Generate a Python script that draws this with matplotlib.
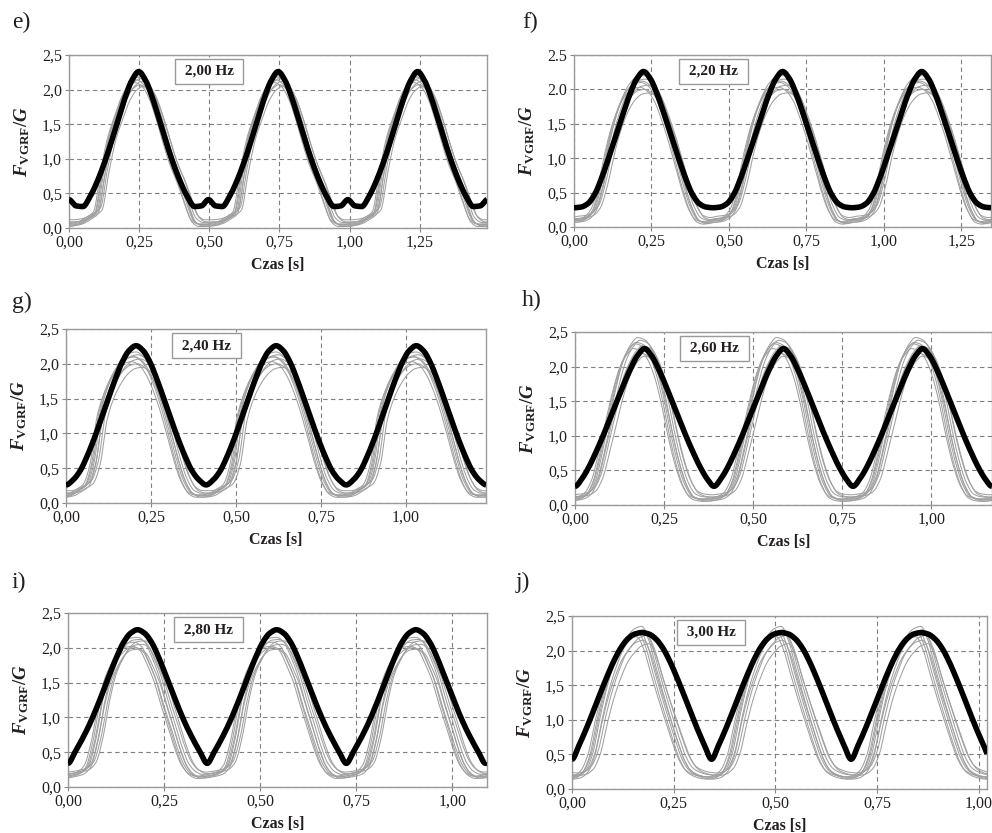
import numpy as np
import matplotlib
matplotlib.use("Agg")
import matplotlib.pyplot as plt

plt.rcParams['font.family'] = ['Liberation Serif', 'DejaVu Serif']
plt.rcParams['mathtext.fontset'] = 'custom'
plt.rcParams['mathtext.rm'] = 'Liberation Serif:bold'
plt.rcParams['mathtext.it'] = 'Liberation Serif:bold:italic'
plt.rcParams['mathtext.bf'] = 'Liberation Serif:bold'

TXT = '#231f20'

# --- data ---
panel_letters = ['e)', 'f)', 'g)', 'h)', 'i)', 'j)']
freq_labels = ['2,00 Hz', '2,20 Hz', '2,40 Hz', '2,60 Hz', '2,80 Hz', '3,00 Hz']
periods = [0.497, 0.449, 0.412, 0.390, 0.362, 0.343]   # s, one step cycle
x_max = [1.49, 1.346, 1.235, 1.17, 1.09, 1.02]

x_ticks = [[0, 0.25, 0.5, 0.75, 1.0, 1.25],
           [0, 0.25, 0.5, 0.75, 1.0, 1.25],
           [0, 0.25, 0.5, 0.75, 1.0],
           [0, 0.25, 0.5, 0.75, 1.0],
           [0, 0.25, 0.5, 0.75, 1.0],
           [0, 0.25, 0.5, 0.75, 1.0]]
x_tick_labels = [['0,00', '0,25', '0,50', '0,75', '1,00', '1,25'],
                 ['0,00', '0,25', '0,50', '0,75', '1,00', '1,25'],
                 ['0,00', '0,25', '0,50', '0,75', '1,00'],
                 ['0,00', '0,25', '0,50', '0,75', '1,00'],
                 ['0,00', '0,25', '0,50', '0,75', '1,00'],
                 ['0,00', '0,25', '0,50', '0,75', '1,00']]
y_ticks = [0, 0.5, 1.0, 1.5, 2.0, 2.5]
y_tick_labels = [['0,0', '0,5', '1,0', '1,5', '2,0', '2,5'],
                 ['0,0', '0,5', '1,0', '1,5', '2.0', '2.5'],
                 ['0,0', '0,5', '1,0', '1,5', '2,0', '2,5'],
                 ['0,0', '0,5', '1,0', '1,5', '2,0', '2,5'],
                 ['0,0', '0,5', '1,0', '1,5', '2,0', '2,5'],
                 ['0,0', '0,5', '1,0', '1,5', '2,0', '2,5']]

# samples over one cycle, at phase 0, 0.05, ..., 1.0
phase = np.linspace(0, 1, 21)

# model load (thick black line)
thick_e = [0.41, 0.32, 0.31, 0.45, 0.66, 0.92, 1.22, 1.55, 1.87, 2.13, 2.26,
           2.13, 1.87, 1.55, 1.22, 0.92, 0.66, 0.45, 0.31, 0.32, 0.41]
thick_f = [0.28, 0.29, 0.34, 0.48, 0.72, 1.01, 1.32, 1.63, 1.92, 2.15, 2.26,
           2.15, 1.92, 1.63, 1.32, 1.01, 0.72, 0.48, 0.34, 0.29, 0.28]
thick_g = [0.26, 0.33, 0.46, 0.67, 0.92, 1.20, 1.49, 1.77, 2.02, 2.19, 2.26,
           2.19, 2.02, 1.77, 1.49, 1.20, 0.92, 0.67, 0.46, 0.33, 0.26]
thick_h = [0.27, 0.38, 0.55, 0.76, 0.99, 1.24, 1.49, 1.74, 1.97, 2.16, 2.26,
           2.16, 1.97, 1.74, 1.49, 1.24, 0.99, 0.76, 0.55, 0.38, 0.27]
thick_i = [0.34, 0.50, 0.68, 0.88, 1.11, 1.36, 1.62, 1.87, 2.08, 2.21, 2.26,
           2.21, 2.08, 1.87, 1.62, 1.36, 1.11, 0.88, 0.68, 0.50, 0.34]
thick_j = [0.43, 0.63, 0.86, 1.11, 1.37, 1.62, 1.85, 2.04, 2.17, 2.24, 2.26,
           2.24, 2.17, 2.04, 1.85, 1.62, 1.37, 1.11, 0.86, 0.63, 0.43]

# measured load, typical cycle (thin grey lines)
grey_e = [0.04, 0.05, 0.08, 0.14, 0.22, 0.80, 1.30, 1.62, 1.90, 2.06, 2.12,
          2.06, 1.88, 1.58, 1.22, 0.90, 0.65, 0.35, 0.10, 0.04, 0.04]
grey_f = [0.08, 0.09, 0.13, 0.25, 0.60, 1.10, 1.50, 1.78, 1.96, 2.05, 2.07,
          2.02, 1.88, 1.62, 1.30, 0.92, 0.55, 0.25, 0.09, 0.06, 0.08]
grey_g = [0.10, 0.12, 0.18, 0.25, 0.55, 1.25, 1.60, 1.82, 1.97, 2.05, 2.07,
          2.02, 1.88, 1.65, 1.35, 0.98, 0.60, 0.30, 0.14, 0.10, 0.10]
grey_h = [0.08, 0.10, 0.16, 0.35, 0.75, 1.20, 1.65, 2.00, 2.20, 2.30, 2.27,
          2.15, 1.90, 1.50, 1.00, 0.58, 0.28, 0.12, 0.08, 0.07, 0.08]
grey_i = [0.15, 0.17, 0.20, 0.30, 0.65, 1.20, 1.60, 1.82, 1.98, 2.05, 2.06,
          2.00, 1.80, 1.55, 1.20, 0.88, 0.55, 0.30, 0.18, 0.14, 0.15]
grey_j = [0.16, 0.18, 0.26, 0.50, 0.98, 1.40, 1.72, 1.97, 2.12, 2.22, 2.25,
          2.06, 1.70, 1.35, 1.02, 0.70, 0.42, 0.26, 0.20, 0.17, 0.16]

# individual trials: peak value, time offset [s], offset of the flight level
peaks_e = [2.20, 2.16, 2.14, 2.12, 2.10, 2.07, 2.05, 2.18]
peaks_f = [2.20, 2.15, 2.10, 2.06, 2.03, 2.00, 1.95, 2.12]
peaks_g = [2.17, 2.13, 2.10, 2.07, 2.03, 2.00, 1.95, 2.10]
peaks_h = [2.42, 2.38, 2.33, 2.30, 2.26, 2.20, 2.15, 2.35]
peaks_i = [2.15, 2.12, 2.08, 2.05, 2.02, 1.98, 2.10, 2.00]
peaks_j = [2.35, 2.30, 2.25, 2.22, 2.20, 2.15, 2.10, 2.28]
shifts = [0.0, 0.006, -0.008, 0.013, -0.012, 0.004, 0.018, -0.004]
bases = [0.0, 0.04, -0.02, 0.08, 0.02, -0.01, 0.05, 0.01]

thick_all = [thick_e, thick_f, thick_g, thick_h, thick_i, thick_j]
grey_all = [grey_e, grey_f, grey_g, grey_h, grey_i, grey_j]
peaks_all = [peaks_e, peaks_f, peaks_g, peaks_h, peaks_i, peaks_j]

# axes boxes in pixels: left, top, right, bottom
boxes = [(69, 55, 487, 228), (574, 55, 991, 227),
         (66, 329, 486, 503), (575, 332, 992, 505),
         (68, 613, 487, 787), (572, 616, 987, 789)]
letter_pos = [(12, 22), (522, 22), (12, 302), (522, 300), (12, 582), (516, 582)]

W, H = 992, 833


def pchip(x, y, xn):
    x = np.asarray(x, float)
    y = np.asarray(y, float)
    h = np.diff(x)
    d = np.diff(y) / h
    m = np.zeros_like(y)
    m[0], m[-1] = d[0], d[-1]
    for k in range(1, len(x) - 1):
        if d[k - 1] * d[k] > 0:
            w1 = 2 * h[k] + h[k - 1]
            w2 = h[k] + 2 * h[k - 1]
            m[k] = (w1 + w2) / (w1 / d[k - 1] + w2 / d[k])
    i = np.clip(np.searchsorted(x, xn) - 1, 0, len(h) - 1)
    s = (xn - x[i]) / h[i]
    h00 = 2 * s**3 - 3 * s**2 + 1
    h10 = s**3 - 2 * s**2 + s
    h01 = -2 * s**3 + 3 * s**2
    h11 = s**3 - s**2
    return h00 * y[i] + h10 * h[i] * m[i] + h01 * y[i + 1] + h11 * h[i] * m[i + 1]


def tile(vals, T, cycles):
    xs, ys = [], []
    for c in cycles:
        xs.append((c + phase[:-1]) * T)
        ys.append(np.asarray(vals[:-1]))
    xs.append([(cycles[-1] + 1) * T])
    ys.append([vals[-1]])
    return np.concatenate(xs), np.concatenate(ys)


fig = plt.figure(figsize=(W / 100, H / 100), dpi=100)

for p in range(6):
    l, t, r, b = boxes[p]
    ax = fig.add_axes([l / W, 1 - b / H, (r - l) / W, (b - t) / H])
    T = periods[p]
    tt = np.linspace(0, x_max[p], 900)

    g = np.asarray(grey_all[p])
    gmax = g.max()
    for pk, sh, bs in zip(peaks_all[p], shifts, bases):
        yv = g * pk / gmax + bs * (1 - g / gmax)
        xn, yn = tile(list(yv), T, range(-1, 5))
        ax.plot(tt, pchip(xn + sh, yn, tt), color='#a0a0a0', lw=0.75, zorder=2)

    xn, yn = tile(thick_all[p], T, range(-1, 5))
    ax.plot(tt, pchip(xn, yn, tt), color='black', lw=4.0, zorder=3,
            solid_capstyle='butt')

    ax.set_xlim(0, x_max[p])
    ax.set_ylim(0, 2.5)
    ax.set_xticks(x_ticks[p])
    ax.set_xticklabels(x_tick_labels[p])
    ax.set_yticks(y_ticks)
    ax.set_yticklabels(y_tick_labels[p])
    ax.tick_params(labelsize=11.5, colors='#888888', labelcolor=TXT, length=3,
                   width=0.8, pad=2)
    ax.grid(True, color='#7f7f7f', ls=(0, (4, 3)), lw=0.8, zorder=1)
    ax.set_axisbelow(True)
    for s in ax.spines.values():
        s.set_color('#9a9a9a')
        s.set_linewidth(1.0)

    ax.text(0.335, 0.905, ' ' + freq_labels[p] + ' ', transform=ax.transAxes,
            ha='center', va='center', fontsize=11, fontweight='bold', color=TXT,
            zorder=5, bbox=dict(boxstyle='square,pad=0.38', fc='white',
                                ec='#9a9a9a', lw=1.0))

    fig.text((l + r) / 2 / W, 1 - (b + 37) / H, 'Czas [s]', ha='center',
             va='center', fontsize=11.5, fontweight='bold', color=TXT)
    fig.text((l - 47) / W, 1 - (t + b) / 2 / H, r'$F_{\mathrm{VGRF}}/G$',
             rotation=90, ha='center', va='center', fontsize=13.5, color=TXT)
    lx, ly = letter_pos[p]
    fig.text(lx / W, 1 - ly / H, panel_letters[p], ha='left', va='center',
             fontsize=17, color=TXT)

fig.savefig('out.png', dpi=100)
